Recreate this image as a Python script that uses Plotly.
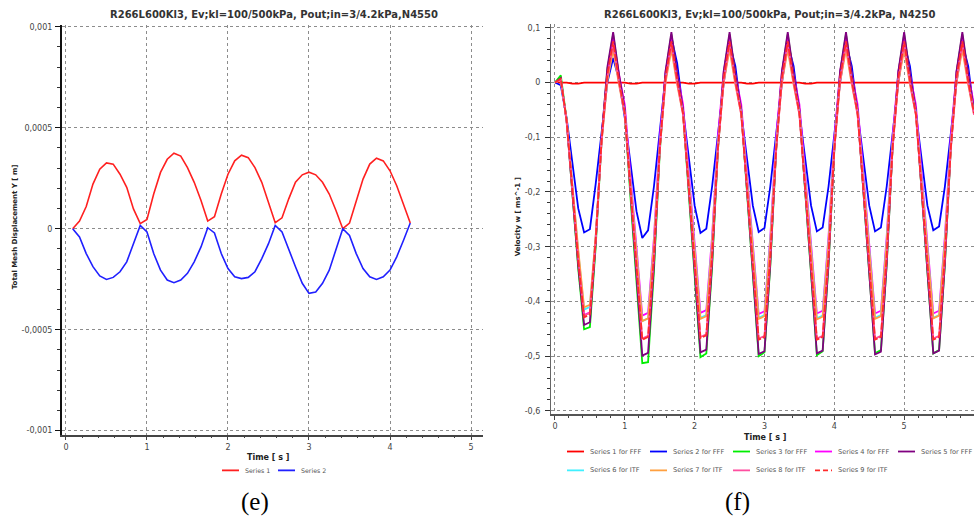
import plotly.graph_objects as go

# ---------------- data ----------------
time_s = [0.0, 0.083, 0.167, 0.25, 0.333, 0.417, 0.5, 0.583, 0.667, 0.75,
          0.833, 0.917, 1.0, 1.083, 1.167, 1.25, 1.333, 1.417, 1.5, 1.583,
          1.667, 1.75, 1.833, 1.917, 2.0, 2.083, 2.167, 2.25, 2.333, 2.417,
          2.5, 2.583, 2.667, 2.75, 2.833, 2.917, 3.0, 3.083, 3.167, 3.25,
          3.333, 3.417, 3.5, 3.583, 3.667, 3.75, 3.833, 3.917, 4.0, 4.083,
          4.167, 4.25, 4.333, 4.417, 4.5, 4.583, 4.667, 4.75, 4.833, 4.917,
          5.0, 5.083, 5.167, 5.25, 5.333, 5.417, 5.5, 5.583, 5.667, 5.75,
          5.833, 5.917, 6.0]

# (e) Total Mesh Displacement Y [m], time = time_s[1:52]
disp_series1 = [0.0, 0.38e-4, 1.1e-4, 2.21e-4, 2.95e-4, 3.26e-4, 3.2e-4, 2.7e-4, 2.05e-4, 0.98e-4,
                0.25e-4, 0.46e-4, 1.72e-4, 2.79e-4, 3.44e-4, 3.74e-4, 3.6e-4, 3.03e-4, 2.3e-4, 1.4e-4,
                0.38e-4, 0.6e-4, 1.72e-4, 2.7e-4, 3.36e-4, 3.64e-4, 3.52e-4, 3.03e-4, 2.3e-4, 1.31e-4,
                0.3e-4, 0.54e-4, 1.48e-4, 2.3e-4, 2.67e-4, 2.8e-4, 2.67e-4, 2.3e-4, 1.72e-4, 0.9e-4,
                0.0, 0.28e-4, 1.39e-4, 2.46e-4, 3.2e-4, 3.49e-4, 3.36e-4, 2.87e-4, 2.13e-4, 1.15e-4,
                0.28e-4]
disp_series2 = [0.0, -0.41e-4, -1.23e-4, -1.88e-4, -2.34e-4, -2.51e-4, -2.41e-4, -2.13e-4, -1.64e-4, -0.74e-4,
                0.16e-4, -0.16e-4, -1.23e-4, -2.05e-4, -2.54e-4, -2.67e-4, -2.54e-4, -2.21e-4, -1.64e-4, -0.9e-4,
                0.05e-4, -0.21e-4, -1.23e-4, -1.97e-4, -2.38e-4, -2.47e-4, -2.41e-4, -2.13e-4, -1.48e-4, -0.74e-4,
                0.16e-4, -0.16e-4, -1.07e-4, -1.88e-4, -2.7e-4, -3.2e-4, -3.13e-4, -2.7e-4, -2.05e-4, -1.07e-4,
                0.0, -0.33e-4, -1.23e-4, -1.97e-4, -2.38e-4, -2.51e-4, -2.38e-4, -2.05e-4, -1.39e-4, -0.57e-4,
                0.28e-4]

# (f) Velocity w [m/s], time = time_s
vel_s1 = [0, 0, 0, -0.002, -0.002, 0, 0, 0, 0, 0,
          0, 0, 0, -0.002, -0.002, 0, 0, 0, 0, 0,
          0, 0, 0, -0.002, -0.002, 0, 0, 0, 0, 0,
          0, 0, 0, -0.002, -0.002, 0, 0, 0, 0, 0,
          0, 0, 0, -0.002, -0.002, 0, 0, 0, 0, 0,
          0, 0, 0, 0, 0, 0, 0, 0, 0, 0,
          0, 0, 0, 0, 0, 0, 0, 0, 0, 0,
          0, 0, 0]
vel_s2 = [0, -0.005, -0.065, -0.15, -0.23, -0.274, -0.268, -0.185, -0.09, 0.0, 0.045,
          0.005, -0.065, -0.155, -0.235, -0.284, -0.27, -0.19, -0.09, 0.01, 0.083,
          0.035, -0.05, -0.14, -0.225, -0.275, -0.267, -0.19, -0.095, 0.0, 0.072,
          0.03, -0.055, -0.145, -0.225, -0.273, -0.266, -0.19, -0.095, 0.0, 0.072,
          0.03, -0.055, -0.145, -0.225, -0.272, -0.265, -0.19, -0.095, 0.0, 0.072,
          0.03, -0.055, -0.145, -0.225, -0.272, -0.265, -0.19, -0.095, 0.0, 0.072,
          0.03, -0.055, -0.145, -0.225, -0.27, -0.263, -0.19, -0.095, 0.0, 0.072,
          0.03, -0.055]
vel_s3 = [0, 0.013, -0.068, -0.205, -0.34, -0.451, -0.447, -0.3, -0.106, 0.023, 0.088,
          0.01, -0.056, -0.213, -0.357, -0.513, -0.511, -0.345, -0.128, 0.016, 0.088,
          0.011, -0.054, -0.207, -0.349, -0.502, -0.495, -0.337, -0.124, 0.017, 0.088,
          0.012, -0.053, -0.206, -0.347, -0.5, -0.493, -0.335, -0.124, 0.017, 0.088,
          0.012, -0.052, -0.205, -0.346, -0.498, -0.491, -0.334, -0.123, 0.018, 0.088,
          0.012, -0.051, -0.204, -0.344, -0.495, -0.489, -0.332, -0.122, 0.018, 0.088,
          0.012, -0.051, -0.204, -0.344, -0.495, -0.489, -0.332, -0.122, 0.018, 0.088,
          0.012, -0.051]
vel_s4 = [0, 0.005, -0.07, -0.195, -0.315, -0.425, -0.42, -0.284, -0.102, 0.019, 0.08,
          0.014, -0.041, -0.173, -0.294, -0.426, -0.421, -0.284, -0.102, 0.019, 0.08,
          0.015, -0.039, -0.17, -0.291, -0.421, -0.416, -0.28, -0.099, 0.021, 0.08,
          0.014, -0.04, -0.172, -0.292, -0.423, -0.418, -0.282, -0.1, 0.02, 0.08,
          0.015, -0.04, -0.171, -0.291, -0.422, -0.417, -0.281, -0.1, 0.02, 0.08,
          0.015, -0.04, -0.171, -0.291, -0.422, -0.417, -0.281, -0.1, 0.02, 0.08,
          0.015, -0.04, -0.171, -0.291, -0.422, -0.417, -0.281, -0.1, 0.02, 0.08,
          0.015, -0.04]
vel_s5 = [0, 0.008, -0.072, -0.205, -0.335, -0.443, -0.438, -0.293, -0.101, 0.028, 0.092,
          0.015, -0.05, -0.203, -0.345, -0.499, -0.494, -0.334, -0.121, 0.021, 0.092,
          0.016, -0.048, -0.2, -0.341, -0.493, -0.488, -0.329, -0.119, 0.022, 0.092,
          0.015, -0.049, -0.202, -0.343, -0.496, -0.491, -0.331, -0.12, 0.021, 0.092,
          0.015, -0.049, -0.201, -0.342, -0.495, -0.49, -0.331, -0.12, 0.021, 0.092,
          0.015, -0.05, -0.202, -0.344, -0.497, -0.492, -0.332, -0.121, 0.021, 0.092,
          0.015, -0.049, -0.201, -0.342, -0.495, -0.49, -0.331, -0.12, 0.021, 0.092,
          0.015, -0.049]
vel_s6 = [0, 0.005, -0.07, -0.195, -0.31, -0.415, -0.41, -0.281, -0.108, 0.007, 0.065,
          0.0, -0.055, -0.186, -0.306, -0.436, -0.431, -0.296, -0.115, 0.005, 0.065,
          0.001, -0.054, -0.183, -0.301, -0.43, -0.425, -0.291, -0.113, 0.006, 0.065,
          0.001, -0.054, -0.183, -0.301, -0.43, -0.425, -0.291, -0.113, 0.006, 0.065,
          0.001, -0.054, -0.183, -0.301, -0.431, -0.426, -0.291, -0.113, 0.006, 0.065,
          0.001, -0.054, -0.183, -0.301, -0.43, -0.425, -0.291, -0.113, 0.006, 0.065,
          0.001, -0.054, -0.183, -0.301, -0.43, -0.425, -0.291, -0.113, 0.006, 0.065,
          0.001, -0.054]
vel_s7 = [0, 0.005, -0.07, -0.193, -0.305, -0.411, -0.406, -0.279, -0.11, 0.003, 0.06,
          -0.004, -0.059, -0.188, -0.307, -0.436, -0.431, -0.297, -0.119, 0.0, 0.06,
          -0.004, -0.058, -0.186, -0.304, -0.432, -0.427, -0.294, -0.117, 0.001, 0.06,
          -0.004, -0.058, -0.186, -0.304, -0.432, -0.427, -0.294, -0.117, 0.001, 0.06,
          -0.004, -0.058, -0.186, -0.304, -0.433, -0.428, -0.294, -0.117, 0.001, 0.06,
          -0.004, -0.058, -0.186, -0.304, -0.432, -0.427, -0.294, -0.117, 0.001, 0.06,
          -0.004, -0.058, -0.186, -0.304, -0.431, -0.426, -0.294, -0.117, 0.001, 0.06,
          -0.004, -0.058]
vel_s8 = [0, 0.005, -0.07, -0.2, -0.322, -0.426, -0.421, -0.287, -0.109, 0.01, 0.07,
          0.0, -0.059, -0.199, -0.328, -0.468, -0.463, -0.317, -0.124, 0.005, 0.07,
          0.0, -0.058, -0.198, -0.326, -0.465, -0.46, -0.315, -0.123, 0.005, 0.07,
          0.0, -0.059, -0.199, -0.328, -0.468, -0.463, -0.317, -0.124, 0.005, 0.07,
          0.0, -0.059, -0.199, -0.328, -0.468, -0.463, -0.317, -0.124, 0.005, 0.07,
          0.0, -0.059, -0.199, -0.328, -0.468, -0.463, -0.317, -0.124, 0.005, 0.07,
          0.0, -0.059, -0.199, -0.328, -0.468, -0.463, -0.317, -0.124, 0.005, 0.07,
          0.0, -0.059]
vel_s9 = [0, 0.007, -0.07, -0.2, -0.325, -0.429, -0.424, -0.288, -0.106, 0.015, 0.075,
          0.004, -0.056, -0.197, -0.328, -0.47, -0.465, -0.317, -0.121, 0.01, 0.075,
          0.005, -0.055, -0.196, -0.326, -0.467, -0.462, -0.315, -0.12, 0.01, 0.075,
          0.004, -0.056, -0.197, -0.328, -0.47, -0.465, -0.317, -0.121, 0.01, 0.075,
          0.004, -0.056, -0.197, -0.328, -0.47, -0.465, -0.317, -0.121, 0.01, 0.075,
          0.004, -0.056, -0.197, -0.328, -0.47, -0.465, -0.317, -0.121, 0.01, 0.075,
          0.004, -0.056, -0.197, -0.328, -0.47, -0.465, -0.317, -0.121, 0.01, 0.075,
          0.004, -0.056]

left_names = ["Series 1", "Series 2"]
right_names = ["Series 1 for FFF", "Series 2 for FFF", "Series 3 for FFF", "Series 4 for FFF",
               "Series 5 for FFF", "Series 6 for ITF", "Series 7 for ITF", "Series 8 for ITF",
               "Series 9 for ITF"]

left_x_ticks = [0, 1, 2, 3, 4, 5]
left_y_ticks = [0.001, 0.0005, 0, -0.0005, -0.001]
left_y_text = ["0,001", "0,0005", "0", "-0,0005", "-0,001"]
right_x_ticks = [0, 1, 2, 3, 4, 5, 6]
right_y_ticks = [0.1, 0, -0.1, -0.2, -0.3, -0.4, -0.5, -0.6]
right_y_text = ["0,1", "0", "-0,1", "-0,2", "-0,3", "-0,4", "-0,5", "-0,6"]

title_left = "R266L600Kl3, Ev;kl=100/500kPa, Pout;in=3/4.2kPa,N4550"
title_right = "R266L600Kl3, Ev;kl=100/500kPa, Pout;in=3/4.2kPa, N4250"

# ---------------- styling ----------------
W, H = 974, 520
FONT = "DejaVu Sans"
left_colors = ["#ff2020", "#2020ff"]
right_colors = ["#ff0000", "#0000ff", "#00ee00", "#ff00ff", "#800080",
                "#40f0ff", "#ffa040", "#ff4fa0", "#ff2a2a"]
right_dash = ["solid"] * 8 + ["dash"]


def px(x):
    return x / W


def py(y):
    return 1 - y / H


fig = go.Figure()

left_t = time_s[1:52]
for name, ys, c in zip(left_names, [disp_series1, disp_series2], left_colors):
    fig.add_trace(go.Scatter(x=left_t, y=ys, mode="lines", name=name,
                             line=dict(color=c, width=1.6), xaxis="x", yaxis="y",
                             showlegend=False))

right_series = [vel_s1, vel_s2, vel_s3, vel_s4, vel_s5, vel_s6, vel_s7, vel_s8, vel_s9]
for name, ys, c, d in zip(right_names, right_series, right_colors, right_dash):
    fig.add_trace(go.Scatter(x=time_s, y=ys, mode="lines", name=name,
                             line=dict(color=c, width=1.8, dash=d if d == "solid" else "7px,2px"),
                             xaxis="x2", yaxis="y2", showlegend=False))

grid = dict(showgrid=True, gridcolor="#8c8c8c", griddash="dot", gridwidth=1, zeroline=False)
tickfont = dict(family=FONT, size=8, color="#444444")

fig.update_layout(
    width=W, height=H,
    margin=dict(l=0, r=0, t=0, b=0),
    paper_bgcolor="white", plot_bgcolor="white",
    showlegend=False,
    xaxis=dict(domain=[px(62), px(483)], range=[-0.049, 5.148], anchor="y",
               tickmode="array", tickvals=left_x_ticks, ticktext=[str(v) for v in left_x_ticks],
               showline=True, linecolor="#444444", linewidth=1.5,
               ticks="outside", ticklen=4, tickcolor="#444444",
               minor=dict(tickmode="linear", tick0=0, dtick=0.2, ticks="outside", ticklen=2,
                          tickcolor="#444444", showgrid=False),
               tickfont=tickfont, **grid),
    yaxis=dict(domain=[py(436), py(23)], range=[-0.0010197, 0.0010098], anchor="x",
               tickmode="array", tickvals=left_y_ticks, ticktext=left_y_text,
               showline=True, linecolor="#111111", linewidth=2,
               ticks="outside", ticklen=5, tickcolor="#111111",
               minor=dict(tickmode="linear", tick0=0, dtick=0.0001, ticks="outside", ticklen=3,
                          tickcolor="#333333", showgrid=False),
               ticklabelstandoff=1,
               tickfont=tickfont, **grid),
    xaxis2=dict(domain=[px(551), 1.0], range=[-0.057, 6.0], anchor="y2",
                tickmode="array", tickvals=right_x_ticks, ticktext=[str(v) for v in right_x_ticks],
                showline=True, linecolor="#555555", linewidth=1.5,
                ticks="outside", ticklen=4, tickcolor="#444444",
                minor=dict(tickmode="linear", tick0=0, dtick=0.2, ticks="outside", ticklen=2,
                           tickcolor="#444444", showgrid=False),
                tickfont=tickfont, **grid),
    yaxis2=dict(domain=[py(415), py(22)], range=[-0.6054, 0.1073], anchor="x2",
                tickmode="array", tickvals=right_y_ticks, ticktext=right_y_text,
                showline=True, linecolor="#666666", linewidth=1.2,
                ticks="outside", ticklen=5, tickcolor="#333333",
                minor=dict(tickmode="linear", tick0=0, dtick=0.02, ticks="outside", ticklen=3,
                           tickcolor="#333333", showgrid=False),
                ticklabelstandoff=3,
                tickfont=tickfont, **grid),
)


def note(x, y, text, size, color="#222222", family=FONT, angle=0, xanchor="center"):
    return dict(x=px(x), y=py(y), text=text, showarrow=False, xref="paper", yref="paper",
                xanchor=xanchor, yanchor="middle", textangle=angle,
                font=dict(family=family, size=size, color=color))


ann = [
    note(274, 13, "<b>" + title_left + "</b>", 10, "#333333"),
    note(770, 13, "<b>" + title_right + "</b>", 10, "#333333"),
    note(15, 227, "<b>Total Mesh Displacement Y [ m]</b>", 7, angle=-90),
    note(518, 217, "<b>Velocity w [ ms^-1 ]</b>", 7, angle=-90),
    note(268, 459, "<b>Time [ s ]</b>", 8),
    note(765, 439, "<b>Time [ s ]</b>", 8),
    note(255, 504, "(e)", 25, "black", "Liberation Serif"),
    note(737, 504, "(f)", 25, "black", "Liberation Serif"),
]

shapes = []
# legend (e)
left_leg = [(222, 472), (278, 472)]
for (lx, ly), name, c in zip(left_leg, left_names, left_colors):
    shapes.append(dict(type="line", xref="paper", yref="paper", x0=px(lx), x1=px(lx + 17),
                       y0=py(ly), y1=py(ly), line=dict(color=c, width=1.8)))
    ann.append(note(lx + 21, ly, name, 6.3, "#555555", xanchor="left"))
# legend (f)
right_leg = [(567, 453), (650, 453), (733, 453), (815, 453), (898, 453),
             (567, 472), (650, 472), (733, 472), (815, 472)]
for (lx, ly), name, c, d in zip(right_leg, right_names, right_colors, right_dash):
    shapes.append(dict(type="line", xref="paper", yref="paper", x0=px(lx), x1=px(lx + 17),
                       y0=py(ly), y1=py(ly),
                       line=dict(color=c, width=1.8, dash="solid" if d == "solid" else "5px,3px")))
    ann.append(note(lx + 21, ly, name, 6.6, "#555555", xanchor="left"))

fig.update_layout(annotations=ann, shapes=shapes)
fig.write_html("out.html", config={"displayModeBar": False},
               post_script="document.body.style.margin='0';")
